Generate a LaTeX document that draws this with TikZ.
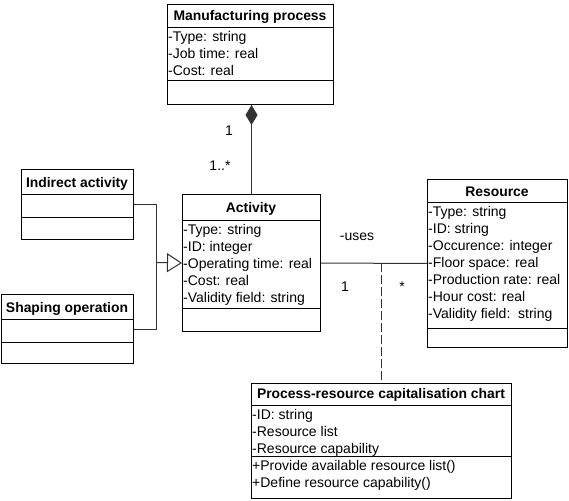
\documentclass[tikz,border=0pt]{standalone}
\usepackage{fontspec}
\setmainfont{Liberation Sans}
\usetikzlibrary{arrows.meta}

\begin{document}
\begin{tikzpicture}[
    x=1pt, y=-1pt,
    classbox/.style={draw=black, line width=1pt, inner sep=0pt, anchor=north west},
    title/.style={font=\fontsize{13.9}{16}\selectfont\bfseries, anchor=base, inner sep=0pt},
    attr/.style={font=\fontsize{14}{16}\selectfont, anchor=base west, inner sep=0pt},
    mult/.style={font=\fontsize{14}{16}\selectfont, inner sep=0pt},
    link/.style={draw=black!80, line width=1pt}
]

\useasboundingbox (0,0) rectangle (569,500);

% name, x, y, width, height
\newcommand{\umlbox}[5]{%
    \node[classbox, minimum width=#4pt, minimum height=#5pt] (#1) at (#2,#3) {};
}
% name, y of separator
\newcommand{\umlsep}[2]{%
    \draw[line width=1pt] (#1.west |- 0,#2) -- (#1.east |- 0,#2);
}

% Manufacturing process
\umlbox{mfg}{167}{4}{166}{100}
\umlsep{mfg}{28}
\umlsep{mfg}{81}
\node[title] (mfgT) at (250,21) {Manufacturing process};
\node[attr] (mfgA) at (168,42) {-Type: string};
\node[attr] (mfgB) at (168,59) {-Job time: real};
\node[attr] (mfgC) at (168,76) {-Cost: real};

% Activity
\umlbox{act}{182}{194}{138}{137}
\umlsep{act}{220}
\umlsep{act}{308}
\node[title] (actT) at (251,212) {Activity};
\foreach \txt [count=\i from 0] in {-Type: string,-ID: integer,-Operating time: real,-Cost: real,-Validity field: string}{
    \node[attr] (act\i) at (183,234+17*\i) {\txt};
}

% Indirect activity
\umlbox{ind}{21}{169}{112}{70}
\umlsep{ind}{194}
\umlsep{ind}{217}
\node[title] (indT) at (77,187) {Indirect activity};

% Shaping operation
\umlbox{shp}{1}{294}{132}{69}
\umlsep{shp}{319}
\umlsep{shp}{342}
\node[title] (shpT) at (67,312) {Shaping operation};

% Resource
\umlbox{res}{427}{179}{140}{168}
\umlsep{res}{202}
\umlsep{res}{328}
\node[title] (resT) at (497,196) {Resource};
\foreach \txt [count=\i from 0] in {-Type: string,-ID: string,-Occurence: integer,-Floor space: real,-Production rate: real,-Hour cost: real,-Validity field:\ \ string}{
    \node[attr] (res\i) at (428,216+17*\i) {\txt};
}

% Process-resource capitalisation chart
\umlbox{chart}{251}{383}{260}{115}
\umlsep{chart}{405}
\umlsep{chart}{456}
\node[title] (chartT) at (381,398) {Process-resource capitalisation chart};
\node[attr] (chartA) at (252,419) {-ID: string};
\node[attr] (chartB) at (252,436) {-Resource list};
\node[attr] (chartC) at (252,453) {-Resource capability};
\node[attr] (chartD) at (252,470) {+Provide available resource list()};
\node[attr] (chartE) at (252,487) {+Define resource capability()};

% composition
\draw[link, -{Diamond[length=20pt, width=12pt]}] (act.north) -- (act.north |- mfg.south);
\node[mult] (m1) at (229,131) {1};
\node[mult] (m2) at (220,166) {1..*};

% generalisation
\coordinate (gen) at (156,262.5);
\draw[link] (ind.east) -| (gen);
\draw[link] (shp.east) -| (gen);
\draw[link, -{Triangle[open, length=15pt, width=19pt, fill=white]}] (gen) -- (act.west);

% association
\draw[link] (act.east) -- (res.west);
\coordinate (cls) at (381,263);
\draw[link, dash pattern=on 9pt off 3pt] (cls) -- (cls |- chart.north);
\node[mult] (uses) at (357,237) {-uses};
\node[mult] (m3) at (345,287) {1};
\node[mult] (m4) at (402,287) {*};

\end{tikzpicture}
\end{document}
